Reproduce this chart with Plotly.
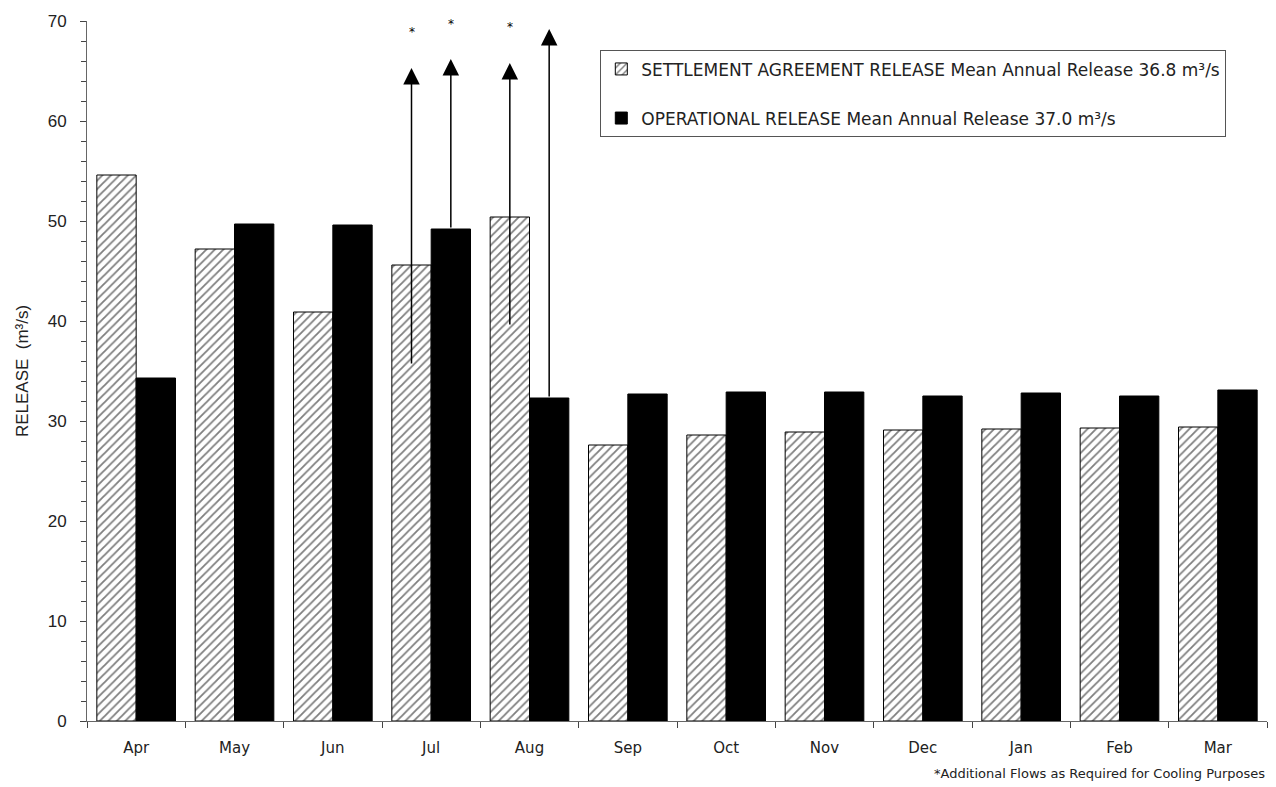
import plotly.graph_objects as go

months = ["Apr", "May", "Jun", "Jul", "Aug", "Sep", "Oct", "Nov", "Dec", "Jan", "Feb", "Mar"]
settlement = [54.6, 47.2, 40.9, 45.6, 50.4, 27.6, 28.6, 28.9, 29.1, 29.2, 29.3, 29.4]
operational = [34.3, 49.7, 49.6, 49.2, 32.3, 32.7, 32.9, 32.9, 32.5, 32.8, 32.5, 33.1]

settlement_name = "SETTLEMENT AGREEMENT RELEASE Mean Annual Release 36.8 m³/s"
operational_name = "OPERATIONAL RELEASE Mean Annual Release 37.0 m³/s"

# Arrows: month, series (0 = settlement, 1 = operational), base, tip, star level
arrow_month = ["Jul", "Jul", "Aug", "Aug"]
arrow_series = [0, 1, 0, 1]
arrow_base = [35.6, 49.2, 39.5, 32.3]
arrow_tip = [65.3, 66.2, 65.8, 69.2]
arrow_star = [68.9, 69.7, 69.4, 71.1]

footnote = "*Additional Flows as Required for Cooling Purposes"
y_title = "RELEASE  (m³/s)"

FONT = "DejaVu Sans"

fig = go.Figure()
fig.add_trace(go.Bar(
    x=months, y=settlement, name=settlement_name,
    width=0.4, offset=-0.4,
    marker=dict(color="white", line=dict(color="black", width=1),
                pattern=dict(shape="/", fgcolor="black", bgcolor="white", size=6, solidity=0.3)),
    legendgroup="a",
))
fig.add_trace(go.Bar(
    x=months, y=operational, name=operational_name,
    width=0.4, offset=0.0,
    marker=dict(color="black", line=dict(color="black", width=1)),
    legendgroup="b",
))

for m, s, b, t, st in zip(arrow_month, arrow_series, arrow_base, arrow_tip, arrow_star):
    xi = months.index(m) + (-0.2 if s == 0 else 0.2)
    fig.add_annotation(
        x=xi, y=t, ax=xi, ay=b, xref="x", yref="y", axref="x", ayref="y",
        text="", showarrow=True, arrowhead=2, arrowsize=2.2, arrowwidth=1.5,
        arrowcolor="black", standoff=0, startstandoff=0,
    )
    fig.add_annotation(
        x=xi, y=st, xref="x", yref="y", text="*", showarrow=False,
        font=dict(family=FONT, size=12, color="black"), yanchor="middle",
    )

fig.add_annotation(
    x=1.0, y=-0.0757, xref="paper", yref="paper", xanchor="right", yanchor="middle",
    text=footnote, showarrow=False,
    font=dict(family=FONT, size=13, color="#222"),
)

fig.update_layout(
    width=1276, height=787,
    margin=dict(l=79, r=17, t=13, b=74),
    plot_bgcolor="white", paper_bgcolor="white",
    barmode="group", bargap=0.2, bargroupgap=0,
    font=dict(family=FONT, size=14, color="#222"),
    showlegend=True,
    legend=dict(
        x=0.435, y=0.958, xanchor="left", yanchor="top",
        bordercolor="#555", borderwidth=1, bgcolor="white",
        font=dict(family=FONT, size=17, color="#222"),
        traceorder="grouped", tracegroupgap=24,
    ),
    xaxis=dict(
        type="category", showline=True, linecolor="#666", linewidth=1,
        ticks="outside", ticklen=6, tickcolor="#444", tickson="boundaries",
        showgrid=False, tickfont=dict(family=FONT, size=15), ticklabelstandoff=13,
        automargin=False,
    ),
    yaxis=dict(
        range=[0, 70], dtick=10, showline=True, linecolor="#666", linewidth=1,
        ticks="outside", ticklen=6, tickcolor="#444", showgrid=False, zeroline=False,
        tickfont=dict(family="Liberation Sans", size=17), ticklabelstandoff=10,
        minor=dict(dtick=2, ticks="outside", ticklen=5, tickcolor="#444"),
        title=dict(text=y_title, font=dict(family="Liberation Sans", size=17), standoff=14),
        automargin="left+right",
    ),
)

fig.write_html("out.html")
